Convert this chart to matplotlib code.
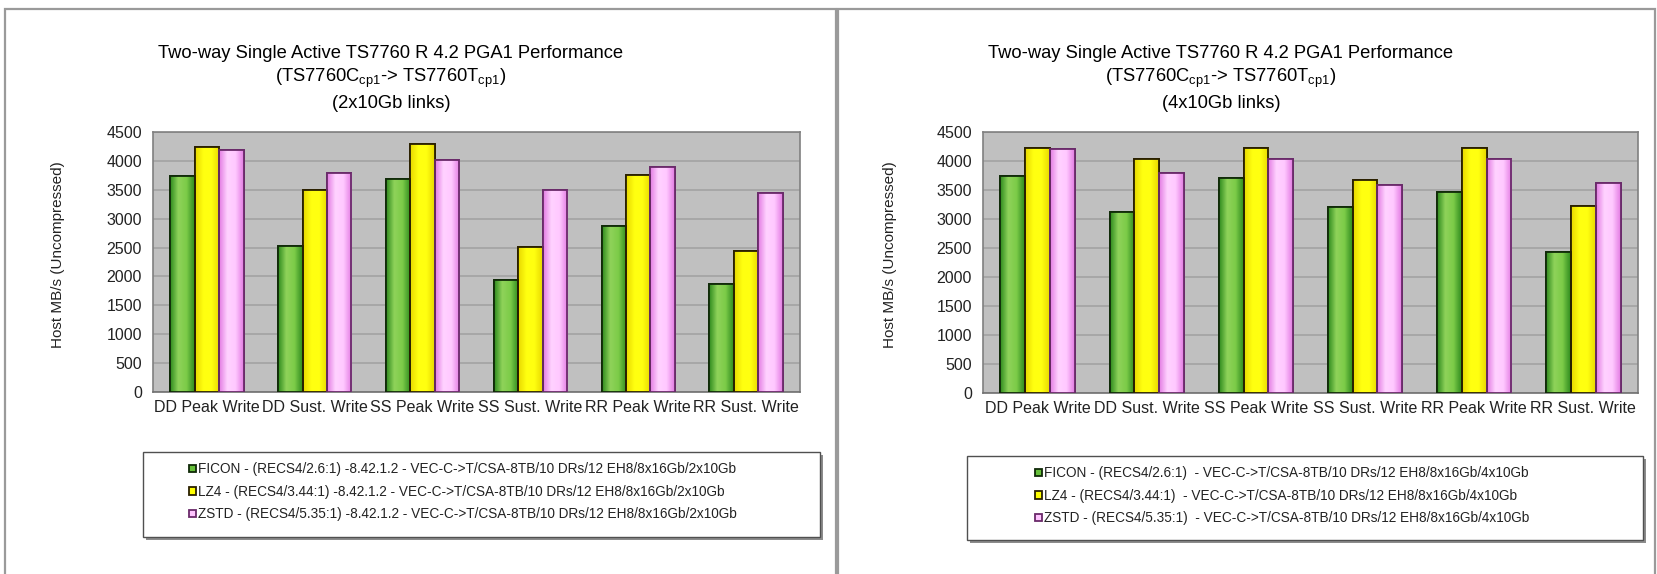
import numpy as np
import matplotlib
matplotlib.use("Agg")
import matplotlib.pyplot as plt
from matplotlib.patches import Rectangle
from matplotlib.colors import LinearSegmentedColormap

plt.rcParams['font.family'] = ['Liberation Sans', 'DejaVu Sans']
plt.rcParams['mathtext.default'] = 'regular'

categories = ["DD Peak Write", "DD Sust. Write", "SS Peak Write",
              "SS Sust. Write", "RR Peak Write", "RR Sust. Write"]

# Left chart (2x10Gb links)
ficon_2x = [3730, 2520, 3680, 1930, 2880, 1870]
lz4_2x = [4235, 3500, 4285, 2510, 3760, 2435]
zstd_2x = [4190, 3795, 4010, 3500, 3895, 3445]

# Right chart (4x10Gb links)
ficon_4x = [3745, 3125, 3715, 3205, 3465, 2425]
lz4_4x = [4230, 4040, 4230, 3680, 4230, 3220]
zstd_4x = [4200, 3790, 4030, 3590, 4030, 3615]

labels_2x = [
    "FICON - (RECS4/2.6:1) -8.42.1.2 - VEC-C->T/CSA-8TB/10 DRs/12 EH8/8x16Gb/2x10Gb",
    "LZ4 - (RECS4/3.44:1) -8.42.1.2 - VEC-C->T/CSA-8TB/10 DRs/12 EH8/8x16Gb/2x10Gb",
    "ZSTD - (RECS4/5.35:1) -8.42.1.2 - VEC-C->T/CSA-8TB/10 DRs/12 EH8/8x16Gb/2x10Gb",
]
labels_4x = [
    "FICON - (RECS4/2.6:1)  - VEC-C->T/CSA-8TB/10 DRs/12 EH8/8x16Gb/4x10Gb",
    "LZ4 - (RECS4/3.44:1)  - VEC-C->T/CSA-8TB/10 DRs/12 EH8/8x16Gb/4x10Gb",
    "ZSTD - (RECS4/5.35:1)  - VEC-C->T/CSA-8TB/10 DRs/12 EH8/8x16Gb/4x10Gb",
]
yticks = [0, 500, 1000, 1500, 2000, 2500, 3000, 3500, 4000, 4500]

title_l1 = "Two-way Single Active TS7760 R 4.2 PGA1 Performance"
title_l2 = r"(TS7760C$_{cp1}$-> TS7760T$_{cp1}$)"
title_2x = "(2x10Gb links)"
title_4x = "(4x10Gb links)"
ylabel = "Host MB/s (Uncompressed)"

face = ["#66c03a", "#ffff00", "#ffc4ff"]
edge = ["#102a08", "#2a2000", "#6a2a6a"]
grad = [
    LinearSegmentedColormap.from_list("g", ["#2e8a1e", "#8fd35a", "#7ccb48", "#2e8a1e"]),
    LinearSegmentedColormap.from_list("y", ["#e8d800", "#ffff10", "#ffff10", "#e8d800"]),
    LinearSegmentedColormap.from_list("p", ["#e27be2", "#ffd2ff", "#ffc8ff", "#e27be2"]),
]

W, H = 1657, 574
fig = plt.figure(figsize=(W / 100, H / 100), dpi=100)
fig.patch.set_facecolor("white")

# panel frames
for x0, x1 in [(5, 836), (838, 1655)]:
    fig.patches.append(Rectangle((x0 / W, -0.02), (x1 - x0) / W, (H - 9) / H + 0.02,
                                 transform=fig.transFigure, fill=False,
                                 edgecolor="#9a9a9a", linewidth=1.6, zorder=0))


def make_panel(rect, series, labels, subtitle, title_x, ylabel_x, leg_box, leg_text_x):
    ax = fig.add_axes(rect)
    ax.set_facecolor("#c0c0c0")
    x = np.arange(len(categories))
    bw = 0.227
    gimg = np.linspace(0, 1, 64).reshape(1, -1)
    for j, vals in enumerate(series):
        bars = ax.bar(x + (j - 1) * bw, vals, bw, color=face[j], edgecolor=edge[j],
                      linewidth=1.3, zorder=3, label=labels[j])
        for b in bars:
            im = ax.imshow(gimg, cmap=grad[j], aspect="auto",
                           extent=(b.get_x(), b.get_x() + b.get_width(), 0, b.get_height()),
                           zorder=3.5, interpolation="bilinear")
            im.set_clip_path(b)
            ax.add_patch(Rectangle((b.get_x(), 0), b.get_width(), b.get_height(),
                                   fill=False, edgecolor=edge[j], linewidth=1.3, zorder=4))
    ax.set_xlim(-0.5, len(categories) - 0.5)
    ax.set_ylim(0, 4500)
    ax.set_yticks(yticks)
    ax.set_xticks(x)
    ax.set_xticklabels(categories, fontsize=11.5, color="#222222")
    ax.tick_params(axis="y", labelsize=11.5, length=0, pad=8, labelcolor="#222222")
    ax.tick_params(axis="x", length=0, pad=6)
    ax.yaxis.grid(True, color="#a2a2a2", linewidth=1.2, zorder=1)
    ax.set_axisbelow(True)
    for s in ax.spines.values():
        s.set_color("#808080")
        s.set_linewidth(1.2)
    ax.spines["bottom"].set_color("#707070")
    fig.text(ylabel_x / W, 1 - 255 / H, ylabel, rotation=90, ha="center", va="center",
             fontsize=11, color="#222222")
    fig.text(title_x / W, 1 - 53 / H, title_l1, ha="center", va="center", fontsize=13.2)
    fig.text(title_x / W, 1 - 78 / H, title_l2, ha="center", va="center", fontsize=13.2)
    fig.text(title_x / W, 1 - 103 / H, subtitle, ha="center", va="center", fontsize=13.2)
    # legend box
    bx0, by0, bx1, by1 = leg_box
    fig.patches.append(Rectangle(((bx0 + 3) / W, 1 - (by1 + 3) / H), (bx1 - bx0) / W,
                                 (by1 - by0) / H, transform=fig.transFigure,
                                 facecolor="#8c8c8c", edgecolor="none", zorder=1))
    fig.patches.append(Rectangle((bx0 / W, 1 - by1 / H), (bx1 - bx0) / W,
                                 (by1 - by0) / H, transform=fig.transFigure,
                                 facecolor="white", edgecolor="#505050", linewidth=1.0,
                                 zorder=2))
    handles, labs = ax.get_legend_handles_labels()
    leg = fig.legend(handles, labs, loc="upper left",
                     bbox_to_anchor=(leg_text_x / W, 1 - (by0 + 5) / H),
                     frameon=False, fontsize=9.8, handlelength=0.5, handleheight=0.5,
                     handletextpad=0.12, labelspacing=0.62, borderaxespad=0)
    for t in leg.get_texts():
        t.set_color("#222222")
    leg.set_zorder(5)
    return ax


make_panel([153 / W, 1 - 392 / H, 647 / W, 260 / H],
           [ficon_2x, lz4_2x, zstd_2x], labels_2x, title_2x,
           title_x=391, ylabel_x=58, leg_box=(143, 452, 820, 537), leg_text_x=184)
make_panel([983 / W, 1 - 393 / H, 655 / W, 261 / H],
           [ficon_4x, lz4_4x, zstd_4x], labels_4x, title_4x,
           title_x=1221, ylabel_x=890, leg_box=(967, 456, 1643, 540), leg_text_x=1030)

fig.savefig("out.png", dpi=100, facecolor="white")
